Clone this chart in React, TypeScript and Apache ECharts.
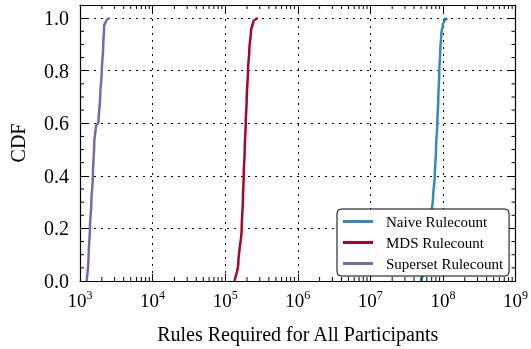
import React, { useEffect, useRef } from "react";
import * as echarts from "echarts";

const FONT = "Liberation Serif";

const seriesNames = ["Naive Rulecount", "MDS Rulecount", "Superset Rulecount"];
const seriesColors = ["#348ABD", "#A60628", "#7A68A6"];

const naiveX = [50.7e6, 56.9e6, 64.5e6, 73.1e6, 77.2e6, 80.4e6, 83.7e6, 86.4e6, 89.2e6, 92.0e6, 95.0e6, 100.2e6, 114.7e6];
const naiveY = [0, 0.1, 0.196, 0.318, 0.4, 0.505, 0.6, 0.692, 0.8, 0.878, 0.94, 0.978, 1.0];

const mdsX = [134e3, 152e3, 169e3, 176e3, 180e3, 186e3, 192e3, 198e3, 206e3, 215e3, 227e3, 244e3, 280e3];
const mdsY = [0, 0.07, 0.2, 0.319, 0.4, 0.505, 0.6, 0.692, 0.8, 0.878, 0.953, 0.987, 1.0];

const supersetX = [1234, 1314, 1369, 1430, 1504, 1572, 1653, 1799, 1898, 1995, 2085, 2151, 2313, 2517];
const supersetY = [0, 0.095, 0.2, 0.294, 0.4, 0.53, 0.586, 0.606, 0.704, 0.8, 0.89, 0.971, 0.992, 1.0];

const xMin = 1e3;
const xMax = 1e9;
const yMin = 0;
const yMax = 1.05;
const yInterval = 0.2;

const xMinorTicks: number[] = [];
for (let k = 3; k < 9; k++) {
  for (let m = 2; m <= 9; m++) xMinorTicks.push(m * Math.pow(10, k));
}
const yMinorTicks: number[] = [];
for (let i = 1; i <= 20; i++) {
  if (i % 4 !== 0) yMinorTicks.push(Math.round(i * 5) / 100);
}

function zip(xs: number[], ys: number[]) {
  return xs.map((x, i) => [x, ys[i]]);
}

export default function App() {
  const ref = useRef<HTMLDivElement>(null);
  useEffect(() => {
    if (!ref.current) return;
    const chart = echarts.init(ref.current, null, { renderer: "svg" });
    const minorData = [
      ...xMinorTicks.map((v) => [v, 0, 0]),
      ...yMinorTicks.map((v) => [xMin, v, 1]),
    ];
    const axisLine = { show: true, onZero: false, lineStyle: { color: "#000", width: 1.2 } };
    const tick = { show: true, inside: true, length: 7, lineStyle: { color: "#000", width: 1 } };
    const grid = { show: true, lineStyle: { color: "#000", width: 1, type: [2, 5] } };
    const lines = [
      { name: seriesNames[0], data: zip(naiveX, naiveY), color: seriesColors[0] },
      { name: seriesNames[1], data: zip(mdsX, mdsY), color: seriesColors[1] },
      { name: seriesNames[2], data: zip(supersetX, supersetY), color: seriesColors[2] },
    ];
    chart.setOption({
      animation: false,
      textStyle: { fontFamily: FONT, color: "#000" },
      grid: { left: 77, right: 14, top: 5, bottom: 64, containLabel: false },
      legend: {
        data: seriesNames,
        orient: "vertical",
        left: 337,
        top: 209,
        padding: [5, 6, 5, 6],
        itemGap: 6,
        itemWidth: 30,
        itemHeight: 3,
        icon: "rect",
        backgroundColor: "#fff",
        borderColor: "#000",
        borderWidth: 1,
        borderRadius: 4,
        textStyle: { fontFamily: FONT, fontSize: 15, color: "#000", padding: [0, 0, 0, 8] },
      },
      xAxis: [
        {
          type: "log",
          logBase: 10,
          min: xMin,
          max: xMax,
          position: "bottom",
          axisLine,
          axisTick: tick,
          splitLine: grid,
          name: "Rules Required for All Participants",
          nameLocation: "middle",
          nameGap: 43,
          nameTextStyle: { fontFamily: FONT, fontSize: 20, color: "#000" },
          axisLabel: {
            margin: 8,
            color: "#000",
            formatter: (v: number) => `{b|10}{s|${Math.round(Math.log10(v))}}`,
            rich: {
              b: { fontFamily: FONT, fontSize: 19, color: "#000", lineHeight: 22 },
              s: { fontFamily: FONT, fontSize: 12, color: "#000", verticalAlign: "top", lineHeight: 22 },
            },
          },
        },
        {
          type: "log",
          logBase: 10,
          min: xMin,
          max: xMax,
          position: "top",
          axisLine,
          axisTick: tick,
          splitLine: { show: false },
          axisLabel: { show: false },
        },
      ],
      yAxis: [
        {
          type: "value",
          min: yMin,
          max: yMax,
          interval: yInterval,
          position: "left",
          axisLine,
          axisTick: tick,
          splitLine: grid,
          name: "CDF",
          nameLocation: "middle",
          nameGap: 52,
          nameTextStyle: { fontFamily: FONT, fontSize: 20, color: "#000" },
          axisLabel: {
            margin: 11,
            color: "#000",
            fontFamily: FONT,
            fontSize: 20,
            showMaxLabel: false,
            formatter: (v: number) => (Math.abs(v - Math.round(v / yInterval) * yInterval) < 1e-6 ? v.toFixed(1) : ""),
          },
        },
        {
          type: "value",
          min: yMin,
          max: yMax,
          interval: yInterval,
          position: "right",
          axisLine,
          axisTick: tick,
          splitLine: { show: false },
          axisLabel: { show: false },
        },
      ],
      series: [
        ...lines.map((l) => ({
          type: "line",
          name: l.name,
          data: l.data,
          xAxisIndex: 0,
          yAxisIndex: 0,
          showSymbol: false,
          symbol: "none",
          smooth: 0.3,
          smoothMonotone: "y",
          color: l.color,
          lineStyle: { color: l.color, width: 2.5 },
          z: 3,
        })),
        {
          type: "custom",
          name: "minorTicks",
          xAxisIndex: 0,
          yAxisIndex: 0,
          silent: true,
          z: 4,
          data: minorData,
          renderItem: (params: any, api: any) => {
            const cs = params.coordSys;
            const kind = api.value(2);
            const p = api.coord([api.value(0), api.value(1)]);
            const style = { stroke: "#000", lineWidth: 1 };
            const L = 4;
            if (kind === 0) {
              const bottom = cs.y + cs.height;
              const top = cs.y;
              return {
                type: "group",
                children: [
                  { type: "line", shape: { x1: p[0], y1: bottom, x2: p[0], y2: bottom - L }, style },
                  { type: "line", shape: { x1: p[0], y1: top, x2: p[0], y2: top + L }, style },
                ],
              };
            }
            const left = cs.x;
            const right = cs.x + cs.width;
            return {
              type: "group",
              children: [
                { type: "line", shape: { x1: left, y1: p[1], x2: left + L, y2: p[1] }, style },
                { type: "line", shape: { x1: right, y1: p[1], x2: right - L, y2: p[1] }, style },
              ],
            };
          },
        },
      ],
    });
    return () => chart.dispose();
  }, []);
  return <div ref={ref} style={{ position: "fixed", left: 0, top: 0, width: 531, height: 349 }} />;
}
